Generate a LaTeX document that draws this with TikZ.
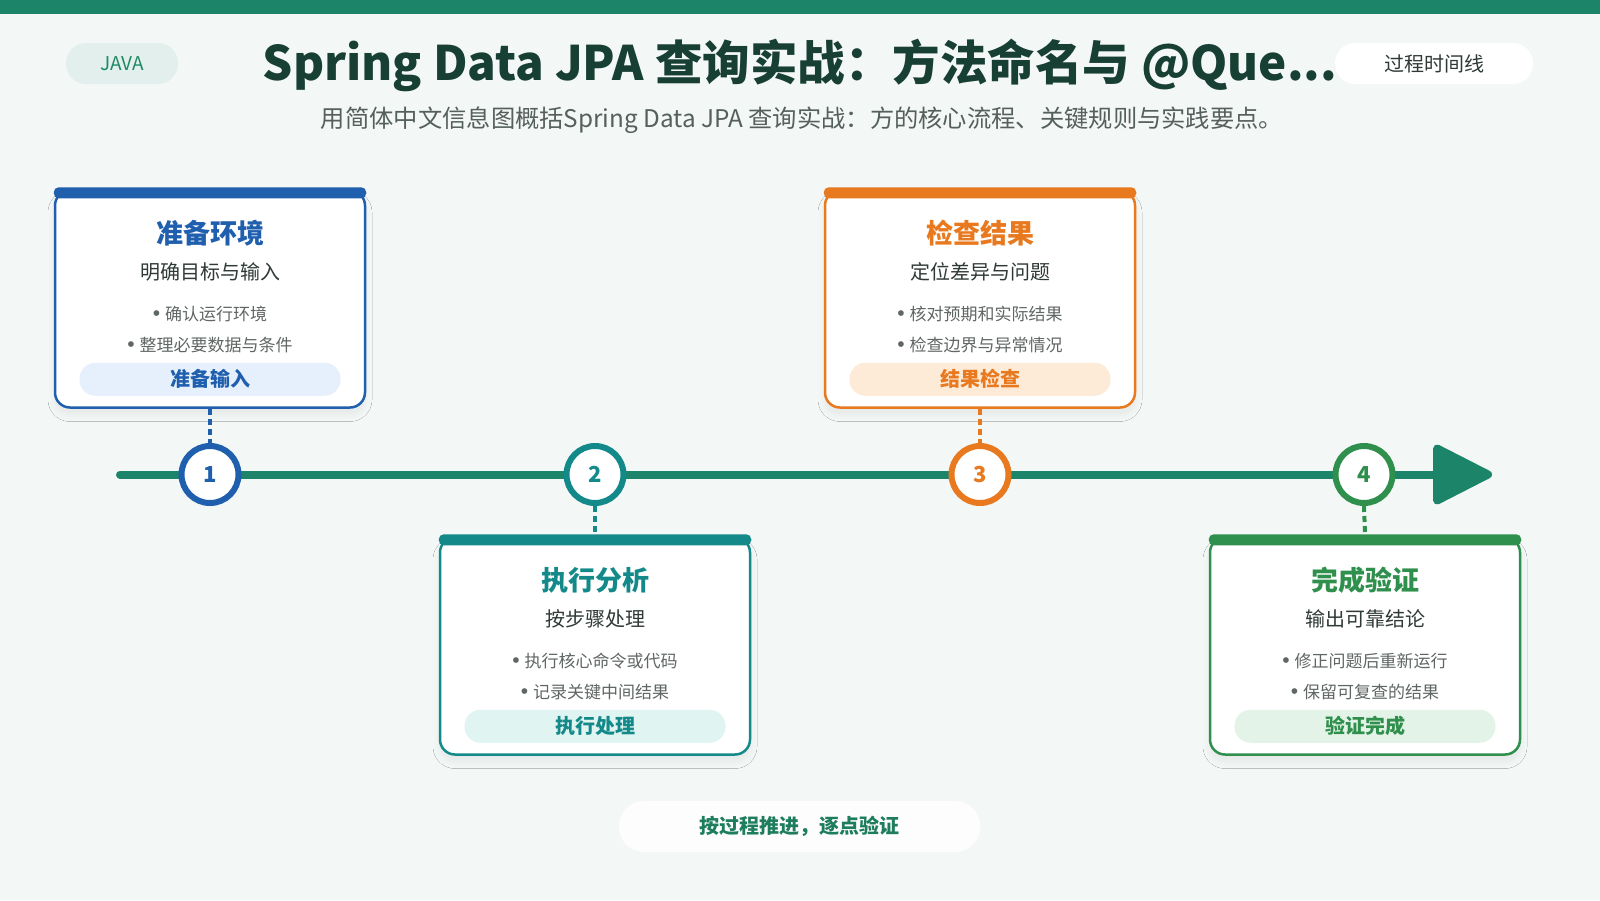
\documentclass[tikz,border=0pt]{standalone}
\usepackage{fontspec}
\setmainfont{Noto Sans CJK SC}
\newfontfamily\bulletfont{Liberation Sans}
\usetikzlibrary{shadows.blur,calc,arrows.meta}

\definecolor{bgcol}{HTML}{F3F7F6}
\definecolor{topbar}{HTML}{1B8469}
\definecolor{linecol}{HTML}{1C8468}
\definecolor{titlecol}{HTML}{173F33}
\definecolor{subcol}{HTML}{55605C}
\definecolor{javacol}{HTML}{1E8A64}
\definecolor{javafill}{HTML}{E2EFEC}
\definecolor{footcol}{HTML}{1E7D5C}
\definecolor{cblue}{HTML}{1F5FAE}
\definecolor{cteal}{HTML}{138A89}
\definecolor{corange}{HTML}{E8791F}
\definecolor{cgreen}{HTML}{2F8F4C}
\definecolor{fblue}{HTML}{E6F0FC}
\definecolor{fteal}{HTML}{E0F4F1}
\definecolor{forange}{HTML}{FDEBD8}
\definecolor{fgreen}{HTML}{E4F3E7}
\definecolor{textdark}{HTML}{2F3A37}
\definecolor{textgray}{HTML}{5F6664}

\tikzset{
  cardbox/.style={draw=#1, line width=2.5pt, fill=white, rounded corners=15pt,
    minimum width=310pt, minimum height=217pt, inner sep=0pt,
    blur shadow={shadow xshift=0pt, shadow yshift=-7pt, shadow blur radius=7pt, shadow opacity=6}},
  cardstrip/.style={fill=#1, rounded corners=5pt},
  cardtitle/.style={text=#1, font=\fontsize{27}{30}\selectfont\bfseries},
  cardsub/.style={text=textdark, font=\fontsize{20}{24}\selectfont},
  cardbullet/.style={text=textgray, font=\fontsize{17}{20}\selectfont},
  tagpill/.style={fill=#1, rounded corners=16pt, minimum width=261pt, minimum height=33pt, inner sep=0pt},
  tagtext/.style={text=#1, font=\fontsize{20}{24}\selectfont\bfseries},
  numring/.style={circle, draw=#1, line width=6pt, fill=white, minimum size=57pt, inner sep=0pt,
    text=#1, font=\fontsize{22}{24}\selectfont\bfseries},
  linkdash/.style={draw=#1, line width=4pt, dash pattern=on 6pt off 4pt},
  headpill/.style={fill=#1, rounded corners=20pt, minimum height=41pt, inner sep=0pt},
}
\newcommand{\dotmark}{{\bulletfont\fontsize{21}{20}\selectfont •}\hspace{5pt}}

\begin{document}
\begin{tikzpicture}[x=1pt, y=-1pt]
  % Background and top band
  \fill[bgcol] (0,0) rectangle (1600,900);
  \useasboundingbox (0,0) rectangle (1600,900);
  \fill[topbar] (0,0) rectangle (1600,14);

  % Header
  \node[headpill=javafill, minimum width=112pt, text=javacol, font=\fontsize{19}{22}\selectfont] (java) at (122,63.5) {JAVA};
  \node[text=titlecol, font=\fontsize{47.5}{52}\selectfont\bfseries] (title) at (800,65) {Spring Data JPA 查询实战：方法命名与 @Que...};
  \node[headpill=white, minimum width=198pt, text=textdark, font=\fontsize{20}{24}\selectfont] (kind) at (1434,63.5) {过程时间线};
  \node[text=subcol, font=\fontsize{24.3}{28}\selectfont] (subtitle) at (802,120) {用简体中文信息图概括Spring Data JPA 查询实战：方的核心流程、关键规则与实践要点。};

  % Timeline axis
  \coordinate (tlstart) at (120,474.5);
  \coordinate (tlend) at (1492,474.5);
  \draw[linecol, line width=8pt, line cap=round, -{Triangle[length=64pt, width=63pt, round=false]}] (tlstart) -- (tlend);

  % Step 1 card (above)
  \node[cardbox=cblue] (card1) at (210,299) {};
  \fill[cardstrip=cblue] ($(card1.north west)+(0,-2)$) rectangle ($(card1.north east)+(0,9)$);
  \node[cardtitle=cblue] at ($(card1.north)+(0,44)$) {准备环境};
  \node[cardsub] at ($(card1.north)+(0,83)$) {明确目标与输入};
  \node[cardbullet] at ($(card1.north)+(0,125)$) {\dotmark 确认运行环境};
  \node[cardbullet] at ($(card1.north)+(0,156)$) {\dotmark 整理必要数据与条件};
  \node[tagpill=fblue] (tag1) at ($(card1.north)+(0,190)$) {};
  \node[tagtext=cblue] at (tag1) {准备输入};

  % Step 2 card (below)
  \node[cardbox=cteal] (card2) at (595,646) {};
  \fill[cardstrip=cteal] ($(card2.north west)+(0,-2)$) rectangle ($(card2.north east)+(0,9)$);
  \node[cardtitle=cteal] at ($(card2.north)+(0,44)$) {执行分析};
  \node[cardsub] at ($(card2.north)+(0,83)$) {按步骤处理};
  \node[cardbullet] at ($(card2.north)+(0,125)$) {\dotmark 执行核心命令或代码};
  \node[cardbullet] at ($(card2.north)+(0,156)$) {\dotmark 记录关键中间结果};
  \node[tagpill=fteal] (tag2) at ($(card2.north)+(0,190)$) {};
  \node[tagtext=cteal] at (tag2) {执行处理};

  % Step 3 card (above)
  \node[cardbox=corange] (card3) at (980,299) {};
  \fill[cardstrip=corange] ($(card3.north west)+(0,-2)$) rectangle ($(card3.north east)+(0,9)$);
  \node[cardtitle=corange] at ($(card3.north)+(0,44)$) {检查结果};
  \node[cardsub] at ($(card3.north)+(0,83)$) {定位差异与问题};
  \node[cardbullet] at ($(card3.north)+(0,125)$) {\dotmark 核对预期和实际结果};
  \node[cardbullet] at ($(card3.north)+(0,156)$) {\dotmark 检查边界与异常情况};
  \node[tagpill=forange] (tag3) at ($(card3.north)+(0,190)$) {};
  \node[tagtext=corange] at (tag3) {结果检查};

  % Step 4 card (below)
  \node[cardbox=cgreen] (card4) at (1365,646) {};
  \fill[cardstrip=cgreen] ($(card4.north west)+(0,-2)$) rectangle ($(card4.north east)+(0,9)$);
  \node[cardtitle=cgreen] at ($(card4.north)+(0,44)$) {完成验证};
  \node[cardsub] at ($(card4.north)+(0,83)$) {输出可靠结论};
  \node[cardbullet] at ($(card4.north)+(0,125)$) {\dotmark 修正问题后重新运行};
  \node[cardbullet] at ($(card4.north)+(0,156)$) {\dotmark 保留可复查的结果};
  \node[tagpill=fgreen] (tag4) at ($(card4.north)+(0,190)$) {};
  \node[tagtext=cgreen] at (tag4) {验证完成};

  % Step markers on the axis
  \node[numring=cblue] (step1) at (210,474.5) {1};
  \node[numring=cteal] (step2) at (595,474.5) {2};
  \node[numring=corange] (step3) at (980,474.5) {3};
  \node[numring=cgreen] (step4) at (1364,474.5) {4};

  % Dashed links between markers and cards
  \draw[linkdash=cblue] (card1.south) -- (step1.north);
  \draw[linkdash=cteal] (step2.south) -- ($(card2.north)+(0,-2)$);
  \draw[linkdash=corange] (card3.south) -- (step3.north);
  \draw[linkdash=cgreen] (step4.south) -- ($(card4.north)+(0,-2)$);

  % Footer note
  \node[headpill=white, rounded corners=25pt, minimum width=361pt, minimum height=51pt, fill opacity=0.85] (footpill) at (799.5,826.5) {};
  \node[text=footcol, font=\fontsize{20}{24}\selectfont\bfseries] (foot) at (footpill) {按过程推进，逐点验证};
\end{tikzpicture}
\end{document}
